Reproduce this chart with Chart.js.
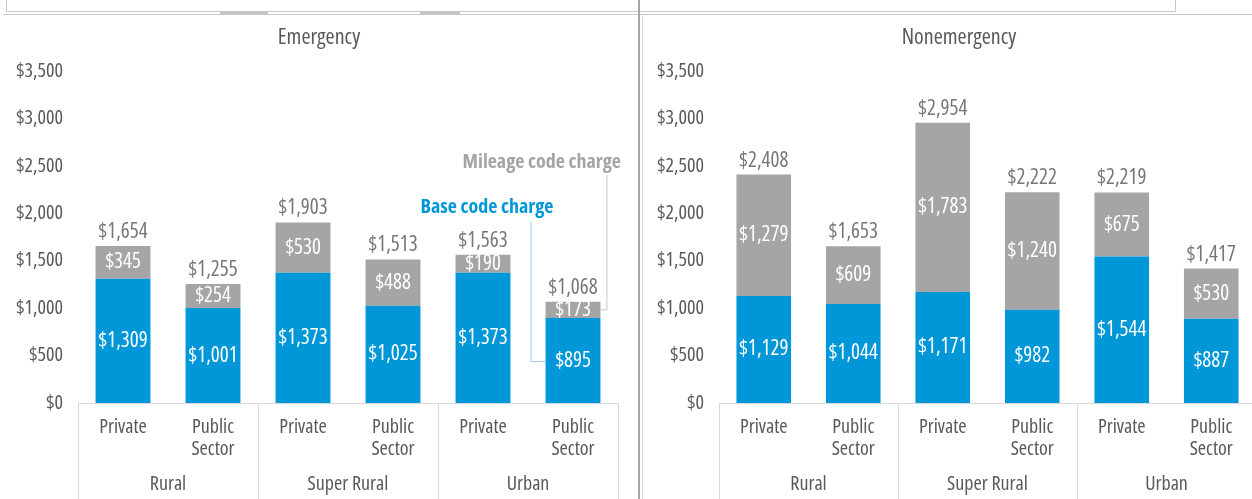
<!DOCTYPE html>
<html>
<head>
<meta charset="utf-8">
<script src="https://cdn.jsdelivr.net/npm/chart.js@4.4.1/dist/chart.umd.min.js"></script>
<style>
  html, body { margin: 0; padding: 0; background: #fff; overflow: hidden; }
  #wrap { position: relative; width: 1252px; height: 499px; overflow: hidden; }
  .pane { position: absolute; top: 0; height: 499px; }
  .hline { position: absolute; height: 1px; background: #c9c9c9; }
  .vline { position: absolute; width: 1px; background: #c9c9c9; }
  .tab { position: absolute; top: 11px; height: 3px; background: #c4c4c4; }
</style>
</head>
<body>
<div id="wrap">
  <div class="vline" style="left:6px;top:0;height:11px"></div>
  <div class="vline" style="left:1175px;top:0;height:11px"></div>
  <div class="hline" style="left:6px;top:11px;width:1170px"></div>
  <div class="hline" style="left:3px;top:14px;width:1249px"></div>
  <div class="tab" style="left:220px;width:48px"></div>
  <div class="tab" style="left:420px;width:40px"></div>
  <div class="pane" style="left:0;width:638px"><canvas id="emChart" width="638" height="499"></canvas></div>
  <div class="vline" style="left:638px;top:0;height:499px;width:2px;background:#a6a6a6"></div>
  <div class="vline" style="left:642px;top:14px;height:485px;background:#d9d9d9"></div>
  <div class="pane" style="left:642px;width:634px"><canvas id="neChart" width="634" height="499"></canvas></div>
</div>
<script>
// ===== data =====
const subLabels = [["Private"], ["Public", "Sector"], ["Private"], ["Public", "Sector"], ["Private"], ["Public", "Sector"]];
const groupLabels = ["Rural", "Super Rural", "Urban"];
const yTicks = [0, 500, 1000, 1500, 2000, 2500, 3000, 3500];

const emBase = [1309, 1001, 1373, 1025, 1373, 895];
const emMileage = [345, 254, 530, 488, 190, 173];
const emTotal = [1654, 1255, 1903, 1513, 1563, 1068];

const neBase = [1129, 1044, 1171, 982, 1544, 887];
const neMileage = [1279, 609, 1783, 1240, 675, 530];
const neTotal = [2408, 1653, 2954, 2222, 2219, 1417];

const BLUE = "#0097d8";
const GREY = "#a5a5a5";
const TEXT = "#595959";
const FAMILY = "'Open Sans', sans-serif";
// condensed face of Open Sans, closest to the original narrow font
const cond = (size, bold) => (bold ? "bold " : "") + "condensed " + size + "px " + FAMILY;

Chart.defaults.font.family = FAMILY;
Chart.defaults.font.weight = "condensed";

const money = v => "$" + v.toLocaleString("en-US");

// ===== title centred on the whole panel =====
const panelTitle = {
  id: "panelTitle",
  afterDraw(chart, args, opts) {
    const ctx = chart.ctx;
    ctx.save();
    ctx.font = cond(22);
    ctx.fillStyle = TEXT;
    ctx.textAlign = "center";
    ctx.textBaseline = "middle";
    ctx.fillText(opts.text, chart.width / 2, 38);
    ctx.restore();
  }
};

// ===== value labels inside bars and totals on top =====
const barLabels = {
  id: "barLabels",
  afterDatasetsDraw(chart, args, opts) {
    const ctx = chart.ctx;
    ctx.save();
    ctx.font = cond(21);
    ctx.textAlign = "center";
    ctx.textBaseline = "middle";
    chart.data.datasets.forEach((ds, i) => {
      chart.getDatasetMeta(i).data.forEach((bar, j) => {
        ctx.fillStyle = "#fff";
        ctx.fillText(money(ds.data[j]), bar.x, (bar.y + bar.base) / 2);
      });
    });
    const top = chart.getDatasetMeta(chart.data.datasets.length - 1).data;
    ctx.fillStyle = "#767676";
    top.forEach((bar, j) => ctx.fillText(money(opts.totals[j]), bar.x, bar.y - 14));
    ctx.restore();
  }
};

// ===== two-level category axis =====
const groupAxis = {
  id: "groupAxis",
  afterDraw(chart) {
    const ctx = chart.ctx;
    const x = chart.scales.x;
    const area = chart.chartArea;
    const w = (x.right - x.left) / subLabels.length;
    ctx.save();
    ctx.strokeStyle = "#d9d9d9";
    ctx.lineWidth = 1;
    ctx.beginPath();
    ctx.moveTo(x.left, area.bottom + 0.5);
    ctx.lineTo(x.right, area.bottom + 0.5);
    for (let g = 0; g <= groupLabels.length; g++) {
      const px = Math.round(x.left + g * 2 * w) + 0.5;
      ctx.moveTo(px, area.bottom);
      ctx.lineTo(px, chart.height);
    }
    ctx.stroke();
    ctx.font = cond(20);
    ctx.fillStyle = TEXT;
    ctx.textAlign = "center";
    ctx.textBaseline = "middle";
    groupLabels.forEach((lab, g) => {
      ctx.fillText(lab, x.left + (g * 2 + 1) * w, area.bottom + 81);
    });
    ctx.restore();
  }
};

// ===== callouts (left chart only) =====
const callouts = {
  id: "callouts",
  afterDraw(chart, args, opts) {
    if (!opts.show) return;
    const ctx = chart.ctx;
    const y = chart.scales.y;
    const x = chart.scales.x;
    const last = subLabels.length - 1;
    const baseBar = chart.getDatasetMeta(0).data[last];
    const mileBar = chart.getDatasetMeta(1).data[last];
    const barL = baseBar.x - baseBar.width / 2;
    const barR = baseBar.x + baseBar.width / 2;
    ctx.save();
    ctx.font = cond(20, true);
    ctx.textBaseline = "middle";

    // mileage
    const my = y.getPixelForValue(2540);
    ctx.fillStyle = GREY;
    ctx.textAlign = "right";
    ctx.fillText("Mileage code charge", chart.chartArea.right + 3, my);
    ctx.strokeStyle = "#c8c8c8";
    ctx.lineWidth = 1;
    ctx.beginPath();
    ctx.moveTo(barR + 6.5, my + 13);
    ctx.lineTo(barR + 6.5, (mileBar.y + mileBar.base) / 2);
    ctx.lineTo(barR, (mileBar.y + mileBar.base) / 2);
    ctx.stroke();

    // base
    const by = y.getPixelForValue(2060);
    ctx.fillStyle = BLUE;
    ctx.textAlign = "center";
    ctx.fillText("Base code charge", x.getPixelForValue(4) + 4, by);
    ctx.strokeStyle = "#9cc8ea";
    ctx.beginPath();
    ctx.moveTo(barL - 14.5, by + 14);
    ctx.lineTo(barL - 14.5, (baseBar.y + baseBar.base) / 2 + 1);
    ctx.lineTo(barL, (baseBar.y + baseBar.base) / 2 + 1);
    ctx.stroke();
    ctx.restore();
  }
};

function makeChart(id, title, base, mileage, totals, showCallouts, yWidth) {
  return new Chart(document.getElementById(id), {
    type: "bar",
    data: {
      labels: subLabels,
      datasets: [
        { label: "Base code charge", data: base, backgroundColor: BLUE },
        { label: "Mileage code charge", data: mileage, backgroundColor: GREY }
      ]
    },
    options: {
      responsive: false,
      animation: false,
      layout: { padding: { top: 71, right: 20 } },
      datasets: { bar: { categoryPercentage: 1, barPercentage: 0.61 } },
      plugins: {
        legend: { display: false },
        tooltip: { enabled: false },
        title: { display: false },
        panelTitle: { text: title },
        barLabels: { totals },
        callouts: { show: showCallouts }
      },
      scales: {
        x: {
          stacked: true,
          grid: { display: false, drawTicks: false },
          border: { display: false },
          ticks: { color: TEXT, font: { size: 20, weight: "condensed", lineHeight: 1.1 }, padding: 13, maxRotation: 0, autoSkip: false },
          afterFit: s => { s.height = 96; }
        },
        y: {
          stacked: true,
          min: 0,
          max: 3500,
          afterBuildTicks: s => { s.ticks = yTicks.map(v => ({ value: v })); },
          grid: { display: false, drawTicks: false },
          border: { display: false },
          ticks: { color: TEXT, font: { size: 20, weight: "condensed" }, padding: 15, callback: v => money(v) },
          afterFit: s => { s.width = yWidth; }
        }
      }
    },
    plugins: [panelTitle, barLabels, groupAxis, callouts]
  });
}

makeChart("emChart", "Emergency", emBase, emMileage, emTotal, true, 78);
makeChart("neChart", "Nonemergency", neBase, neMileage, neTotal, false, 77);
</script>
</body>
</html>
